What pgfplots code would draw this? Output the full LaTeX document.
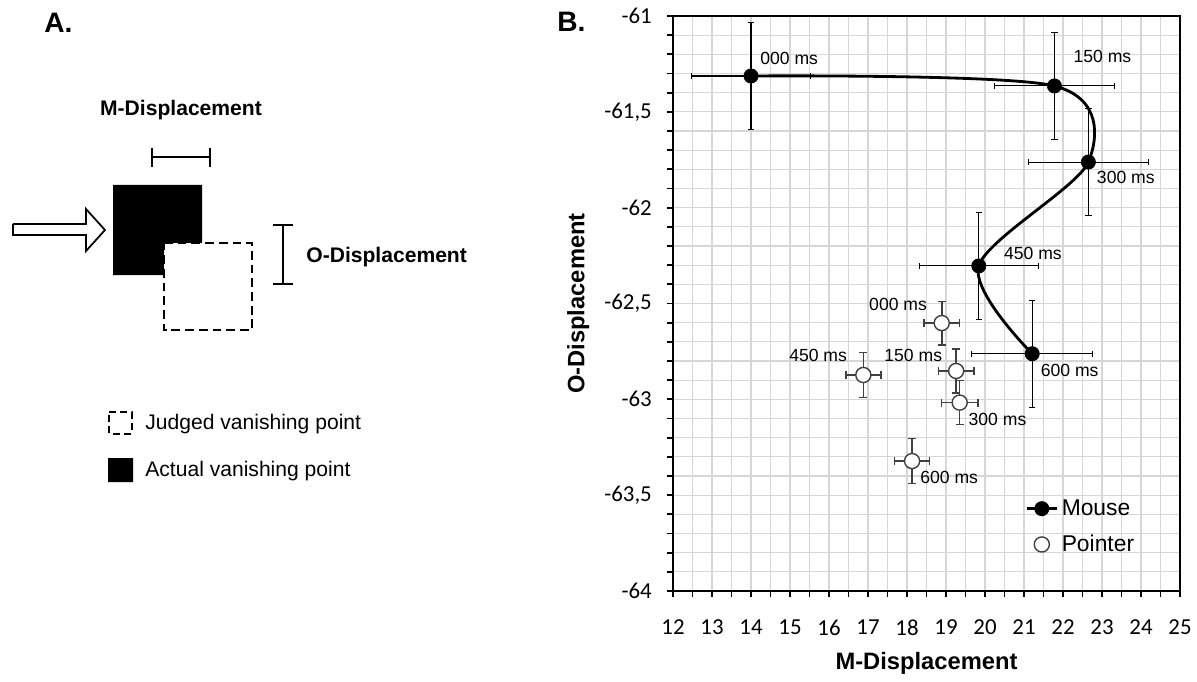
\documentclass[border=0pt]{standalone}
\usepackage{fontspec}
\setmainfont{Liberation Sans}
\newfontfamily\calib{Carlito}
\usepackage{pgfplots}
\usepackage{pgfplotstable}
\pgfplotsset{compat=1.18}

% mouse: mean and error per delay
\pgfplotstableread{
x y ex ey
14.00 -61.313 1.53 0.277
21.78 -61.365 1.54 0.278
22.65 -61.762 1.54 0.280
19.84 -62.304 1.53 0.278
21.21 -62.762 1.55 0.280
}\mouse

% pointer
\pgfplotstableread{
x y ex ey
18.89 -62.602 0.46 0.113
19.26 -62.852 0.455 0.115
19.35 -63.017 0.47 0.115
16.88 -62.873 0.45 0.117
18.13 -63.322 0.45 0.118
}\pointer

% label centres
\pgfplotstableread[col sep=comma]{
x,y,lab
14.98,-61.221,000 ms
23.01,-61.209,150 ms
23.61,-61.840,300 ms
21.23,-62.240,450 ms
22.17,-62.847,600 ms
17.77,-62.504,000 ms
18.16,-62.769,150 ms
20.32,-63.104,300 ms
15.72,-62.769,450 ms
19.08,-63.405,600 ms
}\labels

\begin{document}
\begin{tikzpicture}
\useasboundingbox (0,0) rectangle (23.94,13.62);

% ---- panel A (pixel units of the whole figure) ----
\begin{axis}[at={(0,0)}, anchor=south west, scale only axis,
    width=23.94cm, height=13.62cm,
    xmin=0, xmax=1197, ymin=0, ymax=681, y dir=reverse,
    hide axis, clip=false]
  % actual (black) square
  \addplot[draw=none, fill=black] coordinates {(113,185) (202,185) (202,275) (113,275) (113,185)};
  % judged (dashed) square
  \addplot[draw=black, fill=white, line width=1.1pt, dash pattern=on 5pt off 2.8pt]
    coordinates {(164,243) (252,243) (252,330) (164,330) (164,243)};
  % arrow
  \addplot[draw=black, fill=white, line width=1pt]
    coordinates {(13,224) (86,224) (86,209) (105,230) (86,251) (86,235) (13,235) (13,224)};
  % M bracket
  \addplot[black, line width=1.5pt] coordinates {(152,157) (210,157)};
  \addplot[black, line width=1.5pt] coordinates {(152,148) (152,167)};
  \addplot[black, line width=1.5pt] coordinates {(210,148) (210,167)};
  % O bracket
  \addplot[black, line width=1.5pt] coordinates {(283,225) (283,284)};
  \addplot[black, line width=1.5pt] coordinates {(273,225) (293,225)};
  \addplot[black, line width=1.5pt] coordinates {(273,284) (293,284)};
  % legend squares
  \addplot[draw=black, fill=white, line width=1.1pt, dash pattern=on 4pt off 2.5pt]
    coordinates {(109,412) (132,412) (132,434) (109,434) (109,412)};
  \addplot[draw=none, fill=black] coordinates {(108,458) (133,458) (133,482) (108,482) (108,458)};

  \node[anchor=west, inner sep=0pt, font=\bfseries\fontsize{16}{19}\selectfont] at (axis cs:44,23) {A.};
  \node[anchor=west, inner sep=0pt, font=\bfseries\fontsize{16}{19}\selectfont] at (axis cs:557,22) {B.};
  \node[inner sep=0pt, font=\bfseries\fontsize{12}{14}\selectfont] at (axis cs:181,110) {M-Displacement};
  \node[anchor=west, inner sep=0pt, font=\bfseries\fontsize{12}{14}\selectfont] at (axis cs:306,257) {O-Displacement};
  \node[anchor=west, inner sep=0pt, font=\fontsize{12}{14}\selectfont] at (axis cs:145,424) {Judged vanishing point};
  \node[anchor=west, inner sep=0pt, font=\fontsize{12}{14}\selectfont] at (axis cs:145,471) {Actual vanishing point};
\end{axis}

% ---- panel B ----
\begin{axis}[at={(13.46cm,1.8cm)}, anchor=south west, scale only axis,
    width=10.14cm, height=11.5cm,
    xmin=12, xmax=25, ymin=-64, ymax=-61,
    xtick={12,...,25}, minor x tick num=1,
    ytick={-64,-63.5,-63,-62.5,-62,-61.5,-61}, minor y tick num=4,
    grid=both,
    major grid style={black!16, line width=0.6pt},
    minor grid style={black!16, line width=0.6pt},
    axis line style={line width=1.2pt},
    tick style={black, line width=1pt},
    major tick length=0.12cm, minor tick length=0.12cm,
    tick align=outside, tick pos=left,
    /pgf/number format/use comma,
    /pgf/number format/assume math mode=true,
    tick label style={font=\calib\fontsize{13}{15}\selectfont},
    xticklabel style={yshift=-0.33cm},
    yticklabel style={xshift=-0.18cm},
    xlabel={M-Displacement}, ylabel={O-Displacement},
    label style={font=\bfseries\fontsize{13.5}{16}\selectfont},
    xlabel style={at={(axis description cs:0.5,-0.125)}, anchor=center},
    ylabel style={at={(axis description cs:-0.187,0.5)}, anchor=center},
    legend style={draw=none, fill=none, at={(axis description cs:0.684,0.172)},
      anchor=north west, font=\fontsize{13}{15}\selectfont, row sep=0.2cm},
    legend cell align=left,
    clip=false]

  \addplot[black, line width=1.6pt, smooth, mark=*, mark size=4pt,
      mark options={solid, fill=black, line width=0.5pt},
      error bars/.cd, x dir=both, x explicit, y dir=both, y explicit,
      error bar style={line width=0.6pt, black},
      error mark options={rotate=90, line width=0.6pt, mark size=1.8pt}]
    table[x=x, y=y, x error=ex, y error=ey] {\mouse};
  \addlegendentry{Mouse}

  \addplot[only marks, mark=*, mark size=4.3pt,
      mark options={draw=black!75, fill=white, line width=0.8pt},
      error bars/.cd, x dir=both, x explicit, y dir=both, y explicit,
      error bar style={line width=0.9pt, black!75},
      error mark options={rotate=90, line width=0.9pt, mark size=2.3pt}]
    table[x=x, y=y, x error=ex, y error=ey] {\pointer};
  \addlegendentry{Pointer}

  \addplot[forget plot, only marks, mark=none, nodes near coords,
      point meta=explicit symbolic, nodes near coords align={center},
      every node near coord/.append style={anchor=center, inner sep=0pt,
        font=\fontsize{10}{12}\selectfont}]
    table[x=x, y=y, meta=lab] {\labels};
\end{axis}
\end{tikzpicture}
\end{document}
